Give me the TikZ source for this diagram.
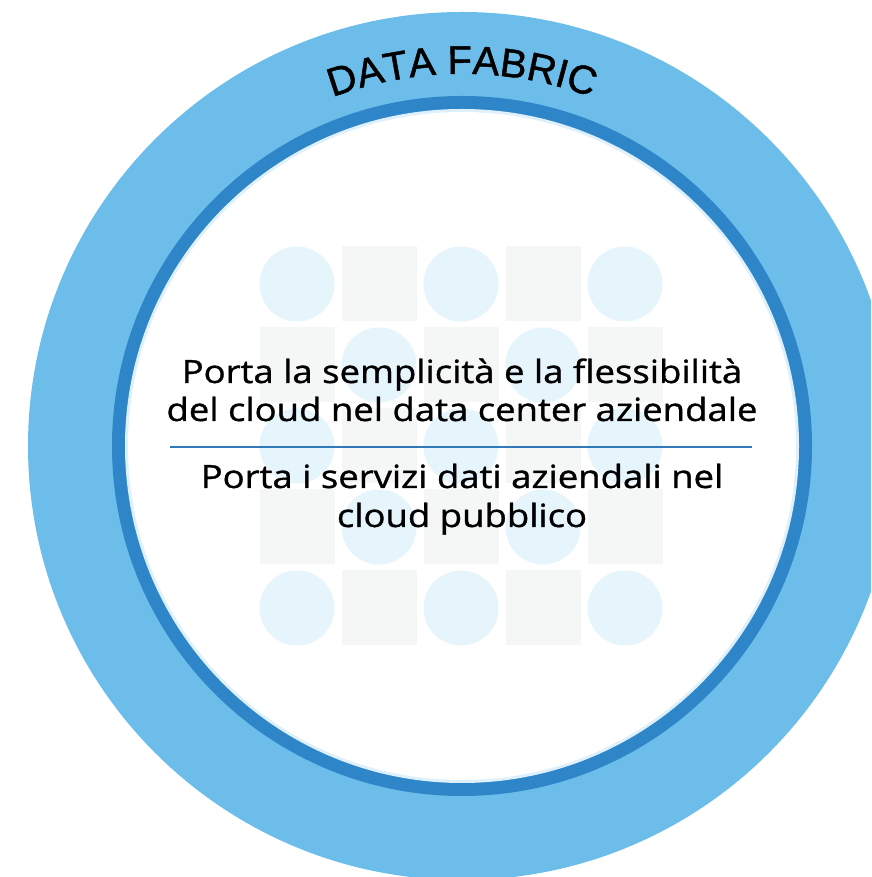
\documentclass[tikz,border=0pt]{standalone}
\usepackage{fontspec}
\setmainfont{Open Sans}
\newfontfamily\claimfont{Open Sans}[FakeStretch=1.14, FakeBold=1.0]
\newfontfamily\titlefont{Liberation Sans}[FakeBold=1.2]
\usetikzlibrary{decorations.text}

\definecolor{fabricblue}{HTML}{6CBDEA}
\definecolor{ringblue}{HTML}{2E86C8}
\definecolor{haloblue}{HTML}{DDF0FB}
\definecolor{dotblue}{HTML}{E6F4FC}
\definecolor{tilegray}{HTML}{F5F7F7}
\definecolor{ruleblue}{HTML}{3179B8}

\tikzset{
	dot/.style={circle, fill=dotblue, minimum size=75pt, inner sep=0},
	tile/.style={rectangle, fill=tilegray, minimum size=75pt, inner sep=0},
	claim/.style={anchor=base, font=\claimfont\fontsize{32}{38}\selectfont}
}

\begin{document}
\begin{tikzpicture}[x=1pt, y=1pt, every node/.style={text centered}]
	\useasboundingbox (0,0) rectangle (871,877);
	\clip (0,0) rectangle (871,877);

	\coordinate (hub) at (462,431);

	% rings
	\fill[fabricblue]	(hub) circle (434);
	\fill[ringblue]		(hub) circle (350);
	\fill[haloblue]		(hub) circle (337);
	\fill[white]		(hub) circle (334);

	\path[decorate, decoration={text along path, text align=center,
			text={|\titlefont\fontsize{40}{40}\selectfont|DATA FABRIC}}]
		(hub) ++(150:372) arc (150:30:372);

	% checkerboard behind the text
	\foreach \col in {0,...,4}
		\foreach \row in {0,...,4} {
			\pgfmathtruncatemacro{\odd}{mod(\col+\row,2)}
			\ifnum\odd=0
				\node[dot] (d\col\row) at (297+82*\col, 593-81*\row) {};
			\else
				\node[tile] (t\col\row) at (297+82*\col, 593-81*\row) {};
			\fi
		}

	\draw 	(462, 494)	node[claim] (semplicita)
				{Porta la semplicità e la flessibilità}
			(462, 456)	node[claim] (datacenter)
				{del cloud nel data center aziendale}
			(462, 389)	node[claim] (servizi)
				{Porta i servizi dati aziendali nel}
			(462, 350)	node[claim] (pubblico)
				{cloud pubblico}
	;

	\coordinate (ruleL) at (170,430);
	\coordinate (ruleR) at (752,430);
	\draw[ruleblue, line width=2pt] (ruleL) -- (ruleR);
\end{tikzpicture}
\end{document}
